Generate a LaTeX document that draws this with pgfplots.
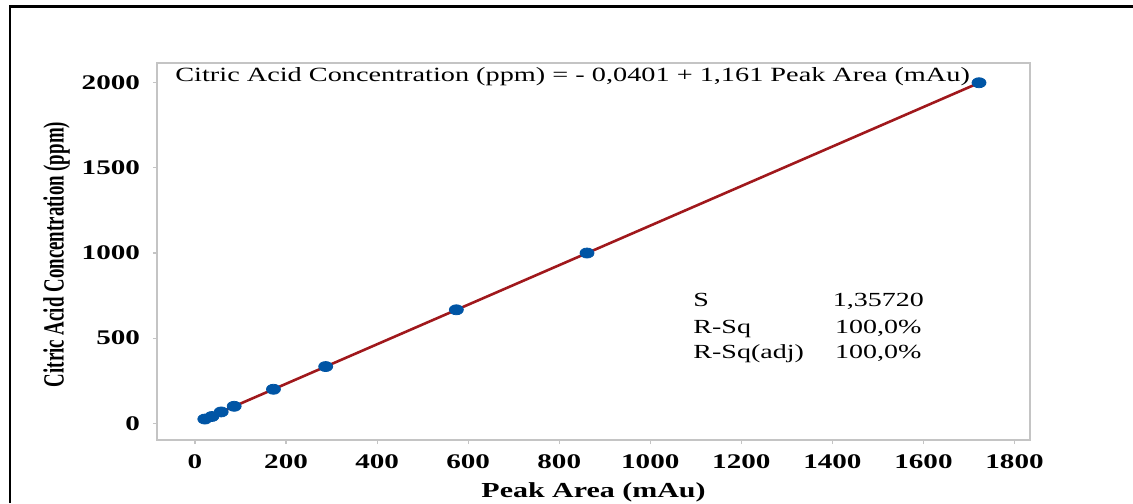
\documentclass[border=0pt]{standalone}
\usepackage{fontspec}
\setmainfont{Liberation Serif}
\usepackage{pgfplots}
\pgfplotsset{compat=1.18}
\definecolor{fitred}{HTML}{A0181C}
\definecolor{ptblue}{HTML}{0055A5}
\definecolor{boxgray}{HTML}{C4C4C4}
\newcommand{\wide}[1]{\scalebox{1.4}[1]{#1}}
\begin{document}
\begin{tikzpicture}
\useasboundingbox (-78.5pt,-31.5pt) rectangle (488pt,220pt);
\draw[line width=1.2pt] (-73.5pt,-31.5pt) -- (-73.5pt,216.75pt) -- (488pt,216.75pt);
\begin{axis}[
	at={(0,0)}, anchor=south west,
	scale only axis,
	width=436.5pt, height=188.5pt,
	xmin=-83.5, xmax=1834,
	ymin=-98, ymax=2116,
	xtick={0,200,...,1800},
	ytick={0,500,...,2000},
	axis line style={boxgray, line width=0.6pt},
	tick style={boxgray, line width=0.6pt},
	tick align=outside, major tick length=2pt,
	xtick pos=bottom, ytick pos=left,
	tick label style={font=\fontsize{10.4}{12}\selectfont\bfseries},
	xticklabel={\wide{\pgfmathprintnumber[fixed,precision=0,1000 sep={},assume math mode=true]{\tick}}},
	yticklabel={\wide{\pgfmathprintnumber[fixed,precision=0,1000 sep={},assume math mode=true]{\tick}}},
	xticklabel style={yshift=-2pt},
	yticklabel style={xshift=-3pt},
	xlabel={\wide{Peak Area (mAu)}},
	ylabel={\scalebox{1}[1.55]{Citric Acid Concentration (ppm)}},
	xlabel style={font=\fontsize{10.7}{12}\selectfont\bfseries, yshift=0pt},
	ylabel style={font=\fontsize{9.45}{12}\selectfont\bfseries, yshift=-1pt, xshift=-1.5pt},
	clip=false,
]
\addplot[fitred, line width=1.3pt] coordinates {(21.5,24.92) (1722,1999.2)};
\addplot[only marks, mark=*, mark size=2.5pt, ptblue, mark options={xscale=1.4, fill=ptblue, draw=ptblue}] coordinates {
(21.5,25) (37,40) (57.5,66.7) (86,100) (172.3,200) (287,333.3) (574,666.7) (861,1000) (1722,2000)};
\node[anchor=base west, inner sep=0pt, font=\fontsize{10.1}{12}\selectfont] at (axis cs:-44,2006) {\wide{Citric Acid Concentration (ppm) = - 0,0401 + 1,161 Peak Area (mAu)}};
\node[anchor=base west, inner sep=0pt, font=\fontsize{10}{12}\selectfont] at (axis cs:1094,685) {\wide{S}};
\node[anchor=base west, inner sep=0pt, font=\fontsize{10}{12}\selectfont] at (axis cs:1094,530) {\wide{R-Sq}};
\node[anchor=base west, inner sep=0pt, font=\fontsize{10}{12}\selectfont] at (axis cs:1094,383) {\wide{R-Sq(adj)}};
\node[anchor=base west, inner sep=0pt, font=\fontsize{10}{12}\selectfont] at (axis cs:1400,685) {\wide{1,35720}};
\node[anchor=base west, inner sep=0pt, font=\fontsize{10}{12}\selectfont] at (axis cs:1405,530) {\wide{100,0\%}};
\node[anchor=base west, inner sep=0pt, font=\fontsize{10}{12}\selectfont] at (axis cs:1405,383) {\wide{100,0\%}};
\end{axis}
\end{tikzpicture}
\end{document}
